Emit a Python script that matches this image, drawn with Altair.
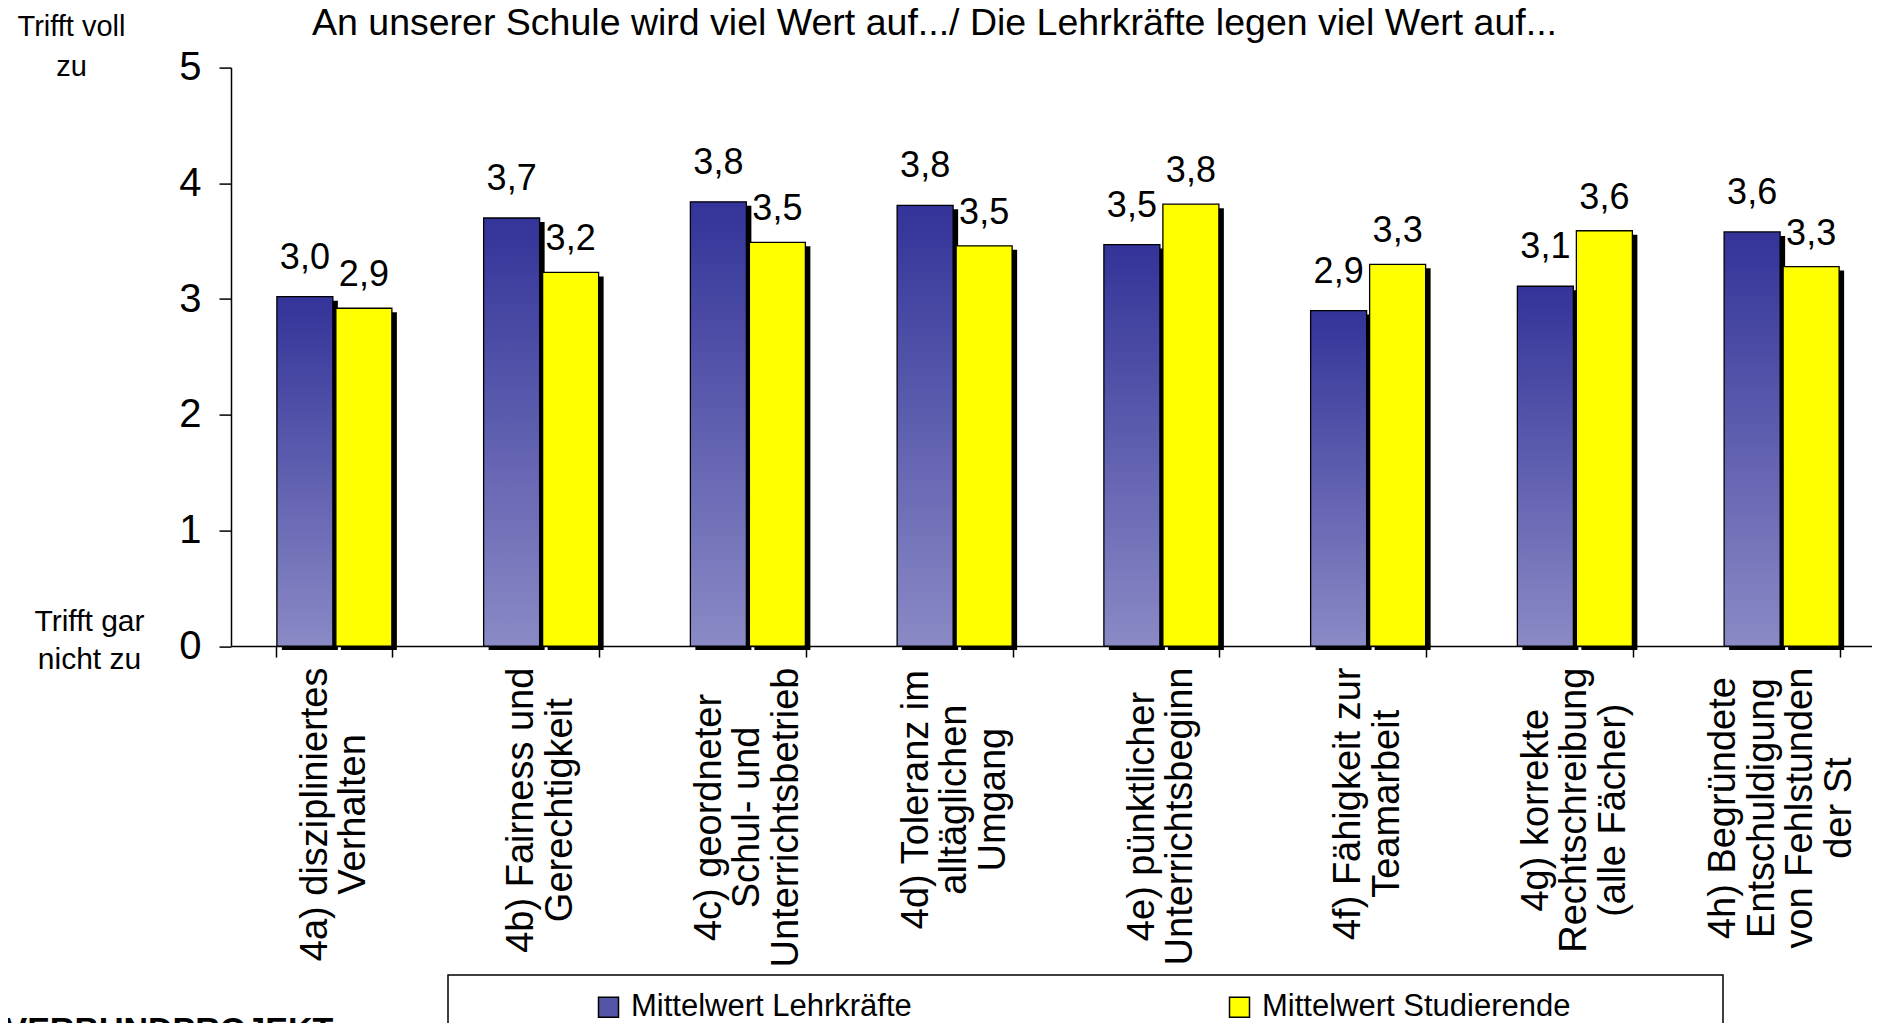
import altair as alt
import pandas as pd

# ---------------- data ----------------
categories = [
    "4a) diszipliniertes|Verhalten",
    "4b) Fairness und|Gerechtigkeit",
    "4c) geordneter|Schul- und|Unterrichtsbetrieb",
    "4d) Toleranz im|alltäglichen|Umgang",
    "4e) pünktlicher|Unterrichtsbeginn",
    "4f) Fähigkeit zur|Teamarbeit",
    "4g) korrekte|Rechtschreibung|(alle Fächer)",
    "4h) Begründete|Entschuldigung|von Fehlstunden|der St",
]
lehrkraefte = [3.02, 3.70, 3.84, 3.81, 3.47, 2.90, 3.11, 3.58]
studierende = [2.92, 3.23, 3.49, 3.46, 3.82, 3.30, 3.59, 3.28]
series_names = ["Mittelwert Lehrkräfte", "Mittelwert Studierende"]
y_ticks = [0, 1, 2, 3, 4, 5]
title_text = "An unserer Schule wird viel Wert auf.../ Die Lehrkräfte legen viel Wert auf..."
top_note = ["Trifft voll", "zu"]
bottom_note = ["Trifft gar", "nicht zu"]
footer_text = "VERBUNDPROJEKT :"

df = pd.DataFrame({
    "cat": categories * 2,
    "series": [series_names[0]] * len(categories) + [series_names[1]] * len(categories),
    "value": lehrkraefte + studierende,
})

FONT = "Liberation Sans"
CAT_FS = 38
CAT_LH = 38.5

# Arial/Liberation Sans advance widths (per 1000 em) for centring the rotated labels
W = {' ': 278, '(': 333, ')': 333, '-': 333, '4': 556, 'a': 556, 'b': 556, 'c': 500,
     'd': 556, 'e': 556, 'f': 278, 'g': 556, 'h': 556, 'i': 222, 'k': 500, 'l': 222,
     'm': 833, 'n': 556, 'o': 556, 'p': 556, 'r': 333, 's': 500, 't': 278, 'u': 556,
     'v': 500, 'w': 722, 'z': 500, 'ä': 556, 'ü': 556, 'B': 667, 'E': 667, 'F': 611,
     'G': 778, 'R': 722, 'S': 667, 'T': 611, 'U': 722, 'V': 667}


def line_len(s):
    return sum(W.get(c, 556) for c in s) / 1000 * CAT_FS


pad_expr = "10"
for c in reversed(categories):
    L = max(line_len(s) for s in c.split("|"))
    pad_expr = f"datum.value === '{c}' ? {10 + L / 2:.1f} : ({pad_expr})"

offset_expr = (f"isValid(datum.value) ? -(length(split(datum.value, '|')) - 1) * {CAT_LH / 2} : 0")

X = alt.X(
    "cat:N",
    sort=categories,
    scale=alt.Scale(range=[0, 1654], paddingInner=0.44, paddingOuter=0.22),
    axis=alt.Axis(
        title=None,
        labelAngle=270,
        labelAlign="center",
        labelBaseline="middle",
        labelFont=FONT,
        labelFontSize=CAT_FS,
        labelLineHeight=CAT_LH,
        labelColor="black",
        labelExpr="isValid(datum.value) ? split(datum.value, '|') : ''",
        labelPadding=alt.ExprRef(expr=pad_expr),
        labelOffset=alt.ExprRef(expr=offset_expr),
        labelLimit=2000,
        labelOverlap=False,
        labelBound=False,
        tickBand="extent",
        tickSize=11,
        tickColor="black",
        tickWidth=1.5,
        domainColor="black",
        domainWidth=1.5,
        grid=False,
    ),
)
Y = alt.Y(
    "value:Q",
    scale=alt.Scale(domain=[0, 5]),
    axis=alt.Axis(
        title=None,
        values=y_ticks,
        format="d",
        labelFont=FONT,
        labelFontSize=40,
        labelColor="black",
        labelPadding=18,
        tickSize=12,
        tickColor="black",
        tickWidth=1.5,
        domainColor="black",
        domainWidth=1.5,
        grid=False,
    ),
)

base = alt.Chart(df)
BW = 56
OFF = 29.5

gradient = alt.LinearGradient(
    gradient="linear",
    stops=[alt.GradientStop(color="#333399", offset=0),
           alt.GradientStop(color="#8a8ac6", offset=1)],
    x1=0, x2=0, y1=0, y2=1,
)

blue = base.transform_filter(alt.datum.series == series_names[0])
yellow = base.transform_filter(alt.datum.series == series_names[1])

blue_shadow = blue.mark_bar(width=BW, xOffset=-OFF + 5, yOffset=4, color="black").encode(x=X, y=Y)
blue_bar = blue.mark_bar(width=BW, xOffset=-OFF, fill=gradient, stroke="black",
                         strokeWidth=1.3).encode(x=X, y=Y)
yellow_shadow = yellow.mark_bar(width=BW, xOffset=OFF + 5, yOffset=4, color="black").encode(x=X, y=Y)
yellow_bar = yellow.mark_bar(width=BW, xOffset=OFF, stroke="black", strokeWidth=1.3).encode(
    x=X, y=Y,
    color=alt.Color(
        "series:N",
        scale=alt.Scale(domain=series_names, range=["#5555a8", "#ffff00"]),
        legend=alt.Legend(
            orient="none", legendX=362, legendY=924, direction="horizontal",
            title=None, labelFont=FONT, labelFontSize=31, labelColor="black",
            labelLimit=2000, symbolType="square", symbolSize=400,
            symbolStrokeColor="black", symbolStrokeWidth=1.5, labelOffset=7,
            columnPadding=312, padding=0,
        ),
    ),
)

label_calc = "replace(format(datum.value, '.1f'), '.', ',')"
blue_lab = blue.transform_calculate(lab=label_calc).mark_text(
    xOffset=-OFF, dy=-28, baseline="alphabetic", font=FONT, fontSize=36, color="black"
).encode(x=X, y=Y, text="lab:N")
yellow_lab = yellow.transform_calculate(lab=label_calc).mark_text(
    xOffset=OFF, dy=-22, baseline="alphabetic", font=FONT, fontSize=36, color="black"
).encode(x=X, y=Y, text="lab:N")

one = alt.Chart(pd.DataFrame({"k": [0]}))
title_mark = one.mark_text(text=title_text, font=FONT, fontSize=37.5, align="center",
                           baseline="alphabetic", color="black").encode(
    x=alt.value(703.5), y=alt.value(-32.5))
top_mark = one.mark_text(text=top_note, font=FONT, fontSize=29, align="center",
                         baseline="alphabetic", lineHeight=40, color="black").encode(
    x=alt.value(-159.5), y=alt.value(-31.6))
bottom_mark = one.mark_text(text=bottom_note, font=FONT, fontSize=30, align="center",
                            baseline="alphabetic", lineHeight=38, color="black").encode(
    x=alt.value(-141.5), y=alt.value(563.4))
footer_mark = one.mark_text(text=footer_text, font=FONT, fontSize=34, fontWeight="bold",
                            align="left", baseline="alphabetic", color="black").encode(
    x=alt.value(-226.5), y=alt.value(973.4))
legend_box = one.mark_rect(filled=False, stroke="black", strokeWidth=1.5).encode(
    x=alt.value(217), x2=alt.value(1492), y=alt.value(907.4), y2=alt.value(1000))

chart = alt.layer(
    blue_shadow, blue_bar, yellow_shadow, yellow_bar, blue_lab, yellow_lab,
    title_mark, top_mark, bottom_mark, footer_mark, legend_box,
).properties(
    width=1641,
    height=578.5,
    autosize=alt.AutoSizeParams(type="none"),
    padding={"left": 223, "top": 59.6, "right": 0, "bottom": 376.9},
    background="white",
).configure_view(strokeWidth=0)

chart.save("out.html", embed_options={"renderer": "svg", "actions": False})
